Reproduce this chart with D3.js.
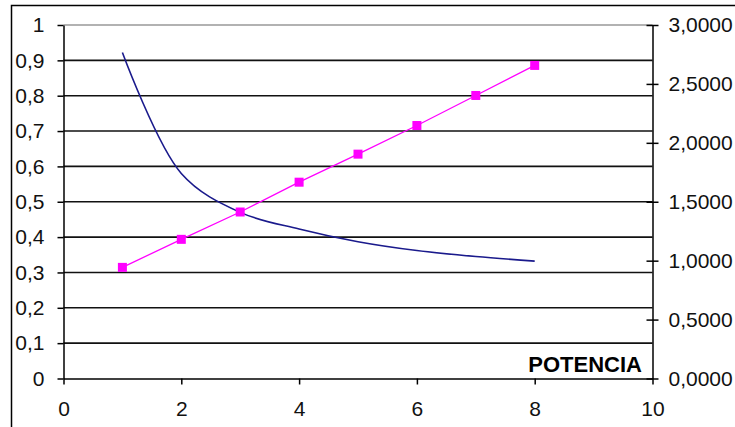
<!DOCTYPE html>
<html><head><meta charset="utf-8">
<script src="https://cdn.jsdelivr.net/npm/d3@7"></script>
<style>html,body{margin:0;padding:0;background:#fff;}svg{display:block;}</style>
</head><body>
<script>
const xValues = [1, 2, 3, 4, 5, 6, 7, 8];
const curveValues = [0.922, 0.58, 0.47, 0.423, 0.387, 0.362, 0.345, 0.332];
const lineValues = [0.943, 1.181, 1.413, 1.666, 1.904, 2.147, 2.402, 2.657];
const xTicks = [0, 2, 4, 6, 8, 10];
const leftTicks = [0, 0.1, 0.2, 0.3, 0.4, 0.5, 0.6, 0.7, 0.8, 0.9, 1];
const rightTicks = [0, 0.5, 1, 1.5, 2, 2.5, 3];
const axisTitle = "POTENCIA";

const W = 735, H = 427;
const m = {left: 63.5, right: 652.5, top: 25, bottom: 378.5};
const svg = d3.select("body").append("svg").attr("width", W).attr("height", H);
const font = "Arial, 'Liberation Sans', sans-serif";

const x = d3.scaleLinear().domain([0, 10]).range([m.left, m.right]);
const yL = d3.scaleLinear().domain([0, 1]).range([m.bottom, m.top]);
const yR = d3.scaleLinear().domain([0, 3]).range([m.bottom, m.top]);

// outer frame
svg.append("rect").attr("x", 11.5).attr("y", 5.5).attr("width", 800).attr("height", 500)
  .attr("fill", "none").attr("stroke", "#000").attr("stroke-width", 1.5);

// gridlines
svg.append("g").selectAll("line").data(leftTicks.filter(d => d > 0 && d < 1)).join("line")
  .attr("x1", m.left).attr("x2", m.right)
  .attr("y1", d => yL(d)).attr("y2", d => yL(d))
  .attr("stroke", "#111").attr("stroke-width", 1.6);
// top border of plot area (gray)
svg.append("line").attr("x1", m.left).attr("x2", m.right).attr("y1", yL(1)).attr("y2", yL(1))
  .attr("stroke", "#999").attr("stroke-width", 1.5);

function styleAxis(g) {
  g.selectAll(".domain").attr("stroke", "#000").attr("stroke-width", 1.5);
  g.selectAll(".tick line").attr("stroke", "#000").attr("stroke-width", 1.5);
  g.selectAll("text").attr("font-family", font).attr("font-size", 21).attr("fill", "#111");
}

// left axis
const gL = svg.append("g").attr("transform", `translate(${m.left},0)`)
  .call(d3.axisLeft(yL).tickValues(leftTicks).tickSize(6).tickSizeOuter(0).tickPadding(13)
    .tickFormat(d => d3.format("~g")(d).replace(".", ",")));
styleAxis(gL);

// right axis
const gR = svg.append("g").attr("transform", `translate(${m.right},0)`)
  .call(d3.axisRight(yR).tickValues(rightTicks).tickSize(6).tickSizeOuter(0).tickPadding(10)
    .tickFormat(d => d3.format(".4f")(d).replace(".", ",")));
styleAxis(gR);
gR.selectAll(".tick line").attr("x1", -6);

// bottom axis
const gB = svg.append("g").attr("transform", `translate(0,${m.bottom})`)
  .call(d3.axisBottom(x).tickValues(xTicks).tickSize(6).tickSizeOuter(0).tickPadding(17)
    .tickFormat(d3.format("d")));
styleAxis(gB);

// axis title
svg.append("text").attr("x", 642).attr("y", 372).attr("text-anchor", "end")
  .attr("font-family", font).attr("font-weight", "bold").attr("font-size", 22)
  .text(axisTitle);

// smoothed curve (left axis)
const data1 = xValues.map((v, i) => [v, curveValues[i]]);
svg.append("path").datum(data1)
  .attr("fill", "none").attr("stroke", "#1a1a8c").attr("stroke-width", 1.6)
  .attr("d", d3.line().x(d => x(d[0])).y(d => yL(d[1])).curve(d3.curveCatmullRom.alpha(0.5)));

// straight line with markers (right axis)
const data2 = xValues.map((v, i) => [v, lineValues[i]]);
svg.append("path").datum(data2)
  .attr("fill", "none").attr("stroke", "#ff00ff").attr("stroke-width", 1.3)
  .attr("d", d3.line().x(d => x(d[0])).y(d => yR(d[1])));
svg.append("g").selectAll("rect").data(data2).join("rect")
  .attr("x", d => x(d[0]) - 4.5).attr("y", d => yR(d[1]) - 4.5)
  .attr("width", 9).attr("height", 9).attr("fill", "#ff00ff");
</script>
</body></html>
